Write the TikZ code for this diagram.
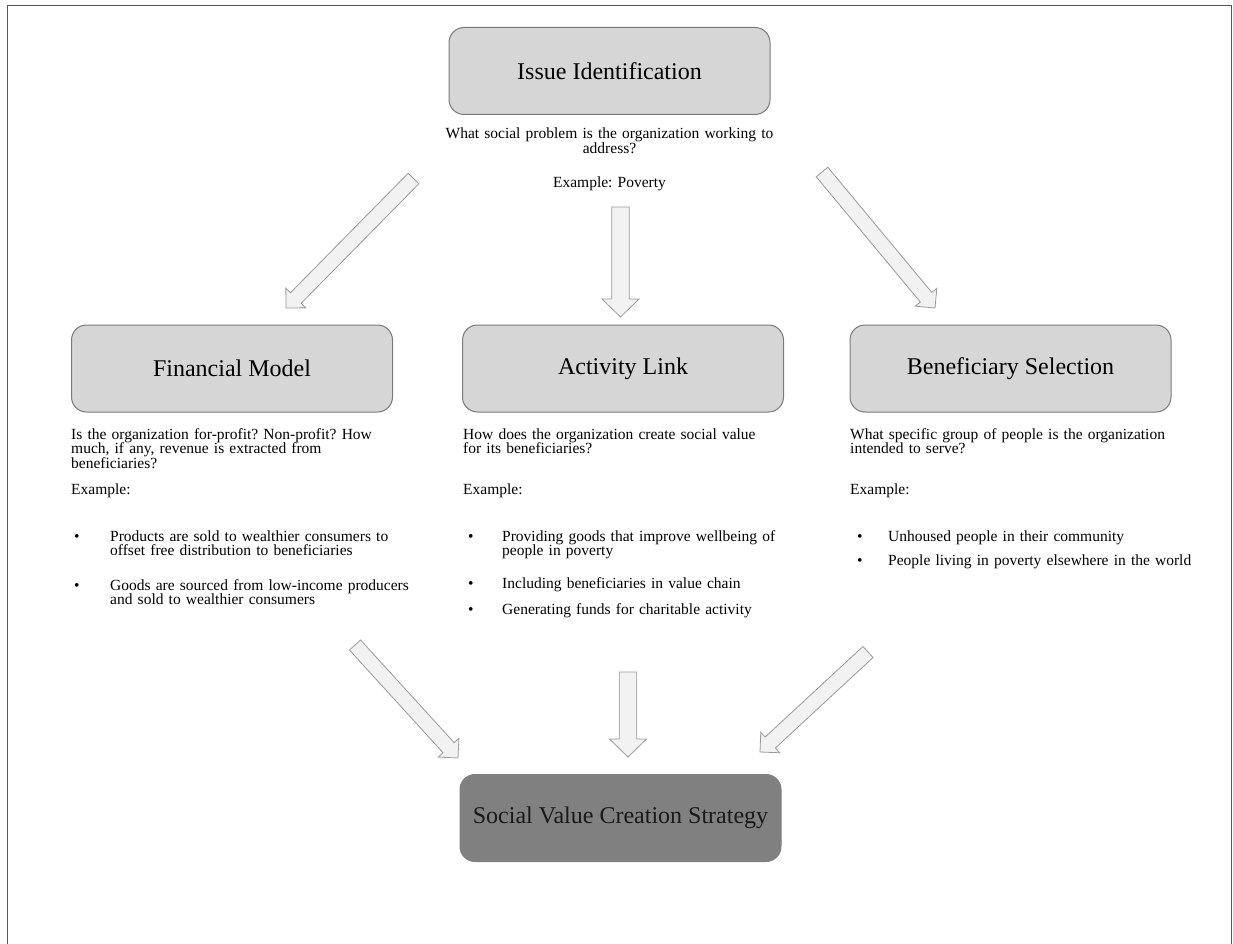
\documentclass[tikz,border=0pt]{standalone}
\usepackage{fontspec}
\setmainfont{Liberation Serif}
\usetikzlibrary{calc}
\definecolor{boxfill}{HTML}{D6D6D6}
\definecolor{boxline}{HTML}{7A7A7A}
\definecolor{darkfill}{HTML}{808080}
\definecolor{arrowfill}{HTML}{F2F2F2}
\definecolor{arrowline}{HTML}{9A9A9A}
\definecolor{framecol}{HTML}{555555}
\frenchspacing

% block arrow from tail #1 to tip #2: shaft half width #3, head half width #4, head depth #5
\newcommand\blockarrow[5]{%
  \path ($(#2)!#5!(#1)$) coordinate (#1-#2-neck);
  \draw[arrowbody] ($(#1)!#3!90:(#2)$) -- ($(#1-#2-neck)!#3!90:(#2)$)
    -- ($(#1-#2-neck)!#4!90:(#2)$) -- (#2) -- ($(#1-#2-neck)!#4!-90:(#2)$)
    -- ($(#1-#2-neck)!#3!-90:(#2)$) -- ($(#1)!#3!-90:(#2)$) -- cycle;
}

\begin{document}
\begin{tikzpicture}[x=1pt,y=-1pt,
  stage/.style={draw=boxline, fill=boxfill, line width=1pt, rounded corners=15pt,
    minimum width=321pt, minimum height=87pt, inner sep=0pt,
    font=\fontsize{24}{28}\selectfont},
  result/.style={stage, fill=darkfill, draw=darkfill, text=black!90},
  body/.style={inner sep=0pt, anchor=base west, text width=340pt, align=left,
    font=\fontsize{15.5}{14.5}\selectfont\frenchspacing},
  centred/.style={body, anchor=base, align=center},
  dot/.style={inner sep=0pt, anchor=base west, font=\fontsize{15.5}{14.5}\selectfont},
  arrowbody/.style={draw=arrowline, fill=arrowfill, line width=0.8pt, line join=miter},
]
\useasboundingbox (0,0) rectangle (1233,944);

% outer frame (open at the bottom edge of the page)
\draw[framecol, line width=1.6pt] (7.5,960) -- (7.5,5.5) -- (1231.5,5.5) -- (1231.5,960);

% stages
\node[stage]  (issue) at (609.5,71)  {Issue Identification};
\node[stage]  (fin)   at (232,368.5) {Financial Model};
\node[stage]  (act)   at (623,368.5) {Activity Link};
\node[stage]  (ben)   at (1010.5,368.5) {Beneficiary Selection};
\node[result] (svc)   at (620.5,818) {Social Value Creation Strategy};

% issue description
\node[centred] (issueq) at (609.5,139) {What social problem is the organization working to\\address?};
\node[centred] (issueex) at (609.5,188) {Example: Poverty};

% financial model description
\node[body] (finq) at (71,439) {Is the organization for-profit? Non-profit? How\\much, if any, revenue is extracted from\\beneficiaries?};
\node[body] (finex) at (71,494) {Example:};
\node[dot]  (finb1) at (74,541) {\textbullet};
\node[body] (fint1) at (110,541) {Products are sold to wealthier consumers to\\offset free distribution to beneficiaries};
\node[dot]  (finb2) at (74,590) {\textbullet};
\node[body] (fint2) at (110,590) {Goods are sourced from low-income producers\\and sold to wealthier consumers};

% activity link description
\node[body] (actq) at (463,439) {How does the organization create social value\\for its beneficiaries?};
\node[body] (actex) at (463,494) {Example:};
\node[dot]  (actb1) at (468,541) {\textbullet};
\node[body] (actt1) at (502,541) {Providing goods that improve wellbeing of\\people in poverty};
\node[dot]  (actb2) at (468,588) {\textbullet};
\node[body] (actt2) at (502,588) {Including beneficiaries in value chain};
\node[dot]  (actb3) at (468,614) {\textbullet};
\node[body] (actt3) at (502,614) {Generating funds for charitable activity};

% beneficiary selection description
\node[body] (benq) at (850,439) {What specific group of people is the organization\\intended to serve?};
\node[body] (benex) at (850,494) {Example:};
\node[dot]  (benb1) at (857,541) {\textbullet};
\node[body] (bent1) at (888,541) {Unhoused people in their community};
\node[dot]  (benb2) at (857,565) {\textbullet};
\node[body] (bent2) at (888,565) {People living in poverty elsewhere in the world};

% arrow ends
\coordinate (t1) at (413.5,178.5); \coordinate (h1) at (286,308);
\coordinate (t2) at (620.5,207);   \coordinate (h2) at (620.5,317);
\coordinate (t3) at (822,172);     \coordinate (h3) at (935,308);
\coordinate (t4) at (355,645);     \coordinate (h4) at (458,758);
\coordinate (t5) at (628,672);     \coordinate (h5) at (628,757);
\coordinate (t6) at (868,652);     \coordinate (h6) at (760,752);

\blockarrow{t1}{h1}{7.5pt}{14pt}{14pt}
\blockarrow{t2}{h2}{8.8pt}{18.5pt}{18pt}
\blockarrow{t3}{h3}{7.5pt}{14pt}{14pt}
\blockarrow{t4}{h4}{7.5pt}{14pt}{14pt}
\blockarrow{t5}{h5}{8.8pt}{18.5pt}{18pt}
\blockarrow{t6}{h6}{7.5pt}{14pt}{14pt}
\end{tikzpicture}
\end{document}
